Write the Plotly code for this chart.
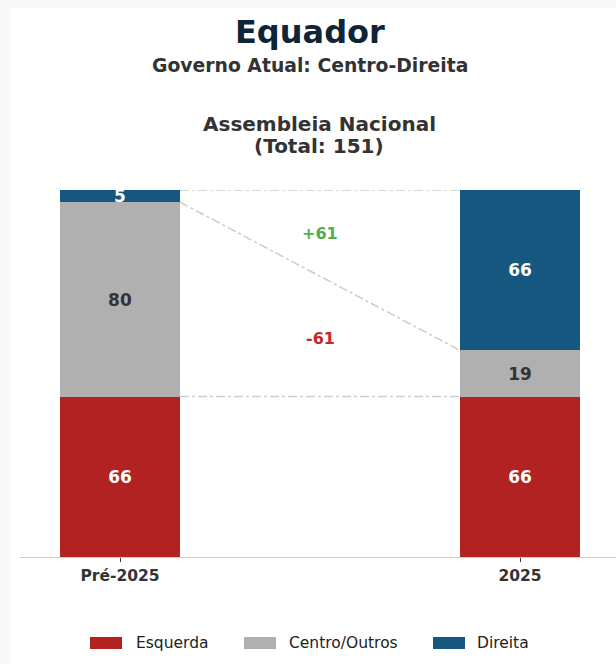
import plotly.graph_objects as go

# Seats in the National Assembly (151 total)
periods = ["Pré-2025", "2025"]
blocs = ["Esquerda", "Centro/Outros", "Direita"]
esquerda = [66, 66]
centro = [80, 19]
direita = [5, 66]
total_seats = 151

colors = {"Esquerda": "#b22222", "Centro/Outros": "#b0b0b0", "Direita": "#15577e"}
text_colors = {"Esquerda": "white", "Centro/Outros": "#333333", "Direita": "white"}
series = {"Esquerda": esquerda, "Centro/Outros": centro, "Direita": direita}

W, H = 616, 664
ML, MR, MT, MB = 20, 0, 190, 107
PW, PH = W - ML - MR, H - MT - MB
BAR_W = 0.3
FONT = "DejaVu Sans"


def px_x(p):
    return (p - ML) / PW


def px_y(p):
    return (H - MB - p) / PH


fig = go.Figure()
for b in blocs:
    fig.add_trace(go.Bar(
        x=[0, 1], y=series[b], name=b, width=BAR_W,
        marker=dict(color=colors[b], line=dict(width=0)),
        text=series[b], texttemplate="%{text}", textposition="inside",
        insidetextanchor="middle", textangle=0,
        textfont=dict(family=FONT, size=17, color=text_colors[b], weight="bold"),
        showlegend=False, hoverinfo="skip",
    ))

# Connector lines between the bars
x_left, x_right = 0 + BAR_W / 2, 1 - BAR_W / 2
top = [esquerda[i] + centro[i] + direita[i] for i in range(2)]
mid = [esquerda[i] + centro[i] for i in range(2)]
for ys in ([top[0], top[1]], [mid[0], mid[1]], [esquerda[0], esquerda[1]]):
    fig.add_trace(go.Scatter(
        x=[x_left, x_right], y=ys, mode="lines",
        line=dict(color="#cccccc", width=1.5, dash="dashdot"),
        showlegend=False, hoverinfo="skip",
    ))

gain = direita[1] - direita[0]
loss = centro[1] - centro[0]
annotations = [
    dict(x=0.5, y=133, xref="x", yref="y", text=f"+{gain}", showarrow=False,
         font=dict(family=FONT, size=16, color="#4caf50", weight="bold")),
    dict(x=0.5, y=90, xref="x", yref="y", text=f"{loss}", showarrow=False,
         font=dict(family=FONT, size=16, color="#c62828", weight="bold")),
    dict(x=px_x(310), y=px_y(32), xref="paper", yref="paper", text="Equador",
         showarrow=False, xanchor="center", yanchor="middle",
         font=dict(family=FONT, size=32, color="#0d2537", weight="bold")),
    dict(x=px_x(310), y=px_y(65.5), xref="paper", yref="paper",
         text="Governo Atual: Centro-Direita", showarrow=False,
         xanchor="center", yanchor="middle",
         font=dict(family=FONT, size=18.8, color="#333333", weight="bold")),
    dict(x=px_x(319), y=px_y(124), xref="paper", yref="paper",
         text="Assembleia Nacional", showarrow=False,
         xanchor="center", yanchor="middle",
         font=dict(family=FONT, size=20, color="#333333", weight="bold")),
    dict(x=px_x(319), y=px_y(146), xref="paper", yref="paper",
         text=f"(Total: {total_seats})", showarrow=False,
         xanchor="center", yanchor="middle",
         font=dict(family=FONT, size=20, color="#333333", weight="bold")),
]

shapes = [
    dict(type="rect", xref="paper", yref="paper", layer="below",
         x0=px_x(10), x1=px_x(W), y0=px_y(H), y1=px_y(8),
         fillcolor="white", line=dict(width=0)),
]

# Legend drawn as swatches plus labels
legend_items = [("Esquerda", 90, 134), ("Centro/Outros", 244, 287), ("Direita", 433, 475)]
for name, sx, tx in legend_items:
    shapes.append(dict(type="rect", xref="paper", yref="paper",
                       x0=px_x(sx), x1=px_x(sx + 32), y0=px_y(649), y1=px_y(637),
                       fillcolor=colors[name], line=dict(width=0)))
    annotations.append(dict(x=px_x(tx), y=px_y(643), xref="paper", yref="paper",
                            text=name, showarrow=False, xanchor="left", yanchor="middle",
                            font=dict(family=FONT, size=15.5, color="#222222")))

fig.update_layout(
    width=W, height=H,
    margin=dict(l=ML, r=MR, t=MT, b=MB, pad=0),
    paper_bgcolor="#f8f8f8", plot_bgcolor="white",
    barmode="stack", bargap=0,
    uniformtext=dict(minsize=17, mode="show"),
    annotations=annotations, shapes=shapes,
    xaxis=dict(range=[-0.25, 1.24], tickvals=[0, 1], ticktext=periods,
               showgrid=False, zeroline=False, showline=True,
               linecolor="#cccccc", linewidth=1,
               ticks="outside", ticklen=4, tickcolor="#333333", tickwidth=1,
               tickfont=dict(family=FONT, size=15.5, color="#333333", weight="bold")),
    yaxis=dict(range=[0, total_seats], showgrid=False, zeroline=False,
               showline=False, showticklabels=False, ticks=""),
)

fig.write_html("out.html")
